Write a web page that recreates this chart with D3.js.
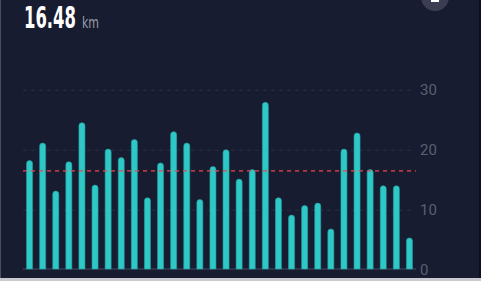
<!DOCTYPE html>
<html>
<head>
<meta charset="utf-8">
<script src="https://cdn.jsdelivr.net/npm/d3@7"></script>
<style>
  html, body { margin: 0; padding: 0; background: #181c30; overflow: hidden; }
  svg { display: block; }
</style>
</head>
<body>
<script>
var width = 481, height = 281;

// daily distances (km)
const days = d3.range(1, 31);
const distances = [18.3, 21.2, 13.2, 18.1, 24.6, 14.2, 20.2, 18.8, 21.8, 12.1,
                   17.9, 23.1, 21.2, 11.8, 17.3, 20.1, 15.2, 16.8, 28.0, 12.1,
                   9.2, 10.8, 11.2, 6.9, 20.2, 22.9, 16.8, 14.1, 14.1, 5.4];
const yTicks = [0, 10, 20, 30];
const totalLabel = "16.48";
const unitLabel = "km";

var svg = d3.select("body")
  .append("svg")
  .attr("width", width)
  .attr("height", height);

svg.append("rect").attr("width", width).attr("height", height).attr("fill", "#181c30");

// frame bits: left edge line, right dark strip, bottom light strip
svg.append("rect").attr("x", 0).attr("y", 0).attr("width", 1).attr("height", height).attr("fill", "#4a4e60");
svg.append("rect").attr("x", 479).attr("y", 0).attr("width", 2).attr("height", height).attr("fill", "#0c0f1e");
svg.append("rect").attr("x", 0).attr("y", 278).attr("width", width).attr("height", 3).attr("fill", "#c8cad0");

// round button peeking at the top right
svg.append("circle").attr("cx", 435).attr("cy", -3).attr("r", 14).attr("fill", "#3b3e52");
svg.append("rect").attr("x", 431).attr("y", 0).attr("width", 8).attr("height", 2).attr("fill", "#ffffff");

var x = d3.scaleBand()
  .domain(days)
  .range([23, 416])
  .paddingInner(0.54)
  .paddingOuter(0.27);

var y = d3.scaleLinear()
  .domain([0, 30])
  .range([270.3, 90.3]);

// dashed grid
svg.append("g")
  .selectAll("line")
  .data(yTicks.filter(d => d > 0))
  .enter()
  .append("line")
  .attr("x1", 23).attr("x2", 412)
  .attr("y1", d => y(d)).attr("y2", d => y(d))
  .attr("stroke", "#2b3044")
  .attr("stroke-width", 1)
  .attr("stroke-dasharray", "4,4");

// baseline
svg.append("line")
  .attr("x1", 23).attr("x2", 416)
  .attr("y1", 269).attr("y2", 269)
  .attr("stroke", "#2e3347")
  .attr("stroke-width", 2);

// tick labels on the right
svg.append("g")
  .selectAll("text")
  .data(yTicks)
  .enter()
  .append("text")
  .attr("x", 420)
  .attr("y", d => y(d) - 0.5)
  .attr("dy", "0.36em")
  .attr("fill", "#5b5f72")
  .attr("font-family", "Roboto, sans-serif")
  .attr("font-size", 15)
  .text(d => d);

// bars, rounded on top
var bw = x.bandwidth();
svg.append("g")
  .selectAll("path")
  .data(distances)
  .enter()
  .append("path")
  .attr("d", (d, i) => {
    var x0 = x(days[i]), y0 = y(d), yb = 269, r = bw / 2;
    return "M" + x0 + "," + yb + "V" + (y0 + r) +
      "A" + r + "," + r + " 0 0 1 " + (x0 + bw) + "," + (y0 + r) +
      "V" + yb + "Z";
  })
  .attr("fill", "#2ec8c6")
  .attr("stroke", "#239ea0")
  .attr("stroke-width", 0.6);

// average line
var avg = d3.mean(distances);
svg.append("line")
  .attr("x1", 23).attr("x2", 416)
  .attr("y1", y(avg)).attr("y2", y(avg))
  .attr("stroke", "#f0444a")
  .attr("stroke-width", 1.3)
  .attr("stroke-dasharray", "4,4");

// header value: squeeze condensed text horizontally with a transform
function squeezed(txt, x0, size, weight, fill, w) {
  var t = svg.append("text")
    .attr("y", 28)
    .attr("font-family", "'Liberation Sans Narrow', 'DejaVu Sans Condensed', sans-serif")
    .attr("font-size", size)
    .attr("font-weight", weight)
    .attr("fill", fill)
    .text(txt);
  var k = w / t.node().getComputedTextLength();
  t.attr("transform", "translate(" + x0 + ",0) scale(" + k + ",1)");
}
squeezed(totalLabel, 24, 31, "bold", "#ffffff", 52);
squeezed(unitLabel, 82, 16, "normal", "#9a9cab", 17);
</script>
</body>
</html>
